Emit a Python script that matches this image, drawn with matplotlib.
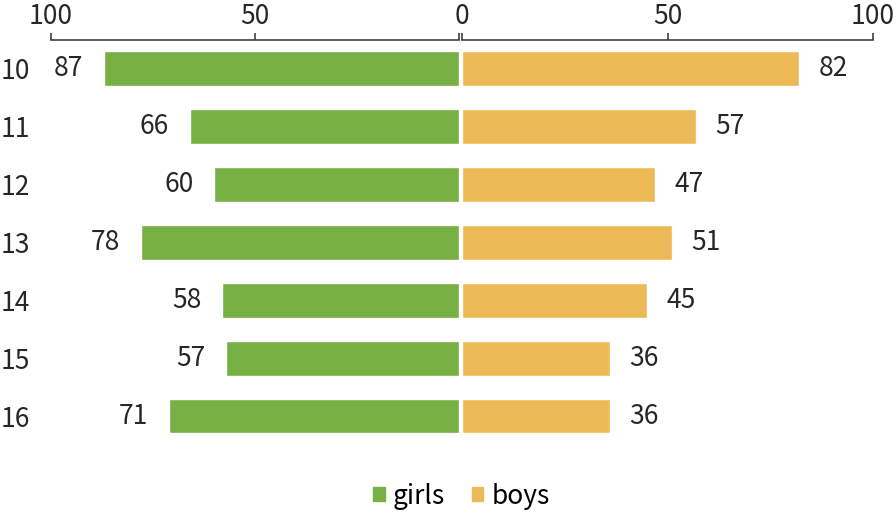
import numpy as np
import matplotlib.pyplot as plt
from matplotlib.patches import Patch

plt.rcParams['font.family'] = ['Noto Sans CJK SC', 'DejaVu Sans']

ages = ['10', '11', '12', '13', '14', '15', '16']
girls = [87, 66, 60, 78, 58, 57, 71]
boys = [82, 57, 47, 51, 45, 36, 36]

green = '#77B043'
yellow = '#EBBA57'
txt = '#262626'
fs = 19

fig = plt.figure(figsize=(8.96, 5.18), dpi=100)
axl = fig.add_axes([0.057, 0.141, 0.455, 0.782])
axr = fig.add_axes([0.516, 0.141, 0.458, 0.782])

y = np.arange(len(ages))

axl.barh(y, girls, height=0.6, color=green, edgecolor='white', linewidth=1)
axr.barh(y, boys, height=0.6, color=yellow, edgecolor='white', linewidth=1)

# value labels outside the bar ends
for yi, v in zip(y, girls):
    axl.annotate(str(v), (v, yi), xytext=(-15, 0), textcoords='offset points',
                 ha='right', va='center', fontsize=fs, color=txt)
for yi, v in zip(y, boys):
    axr.annotate(str(v), (v, yi), xytext=(14, 0), textcoords='offset points',
                 ha='left', va='center', fontsize=fs, color=txt)

axl.set_xlim(100, 0)
axr.set_xlim(0, 100)
for ax in (axl, axr):
    ax.set_ylim(len(ages) - 0.5, -0.5)
    for s in ('right', 'bottom', 'left'):
        ax.spines[s].set_visible(False)
    ax.spines['top'].set_color('#404040')
    ax.spines['top'].set_linewidth(1.2)
    ax.xaxis.tick_top()
    ax.tick_params(axis='x', direction='out', length=5, width=1.2, color='#404040',
                   labelsize=fs, labelcolor=txt, pad=2)
    ax.patch.set_visible(False)

axl.set_xticks([100, 50, 0])
axl.set_xticklabels(['100', '50', ''])
axr.set_xticks([0, 50, 100])
axr.set_xticklabels(['0', '50', '100'])

axl.set_yticks(y)
axl.set_yticklabels(ages)
axl.tick_params(axis='y', length=0, labelsize=fs, labelcolor=txt, pad=15)
axr.set_yticks([])

handles = [Patch(color=green, label='girls'), Patch(color=yellow, label='boys')]
fig.legend(handles=handles, loc='lower center', bbox_to_anchor=(0.515, -0.03), ncol=2,
           frameon=False, fontsize=fs, handlelength=0.45, handleheight=0.45,
           handletextpad=0.3, columnspacing=1.0)

fig.savefig('out.png', dpi=100)
